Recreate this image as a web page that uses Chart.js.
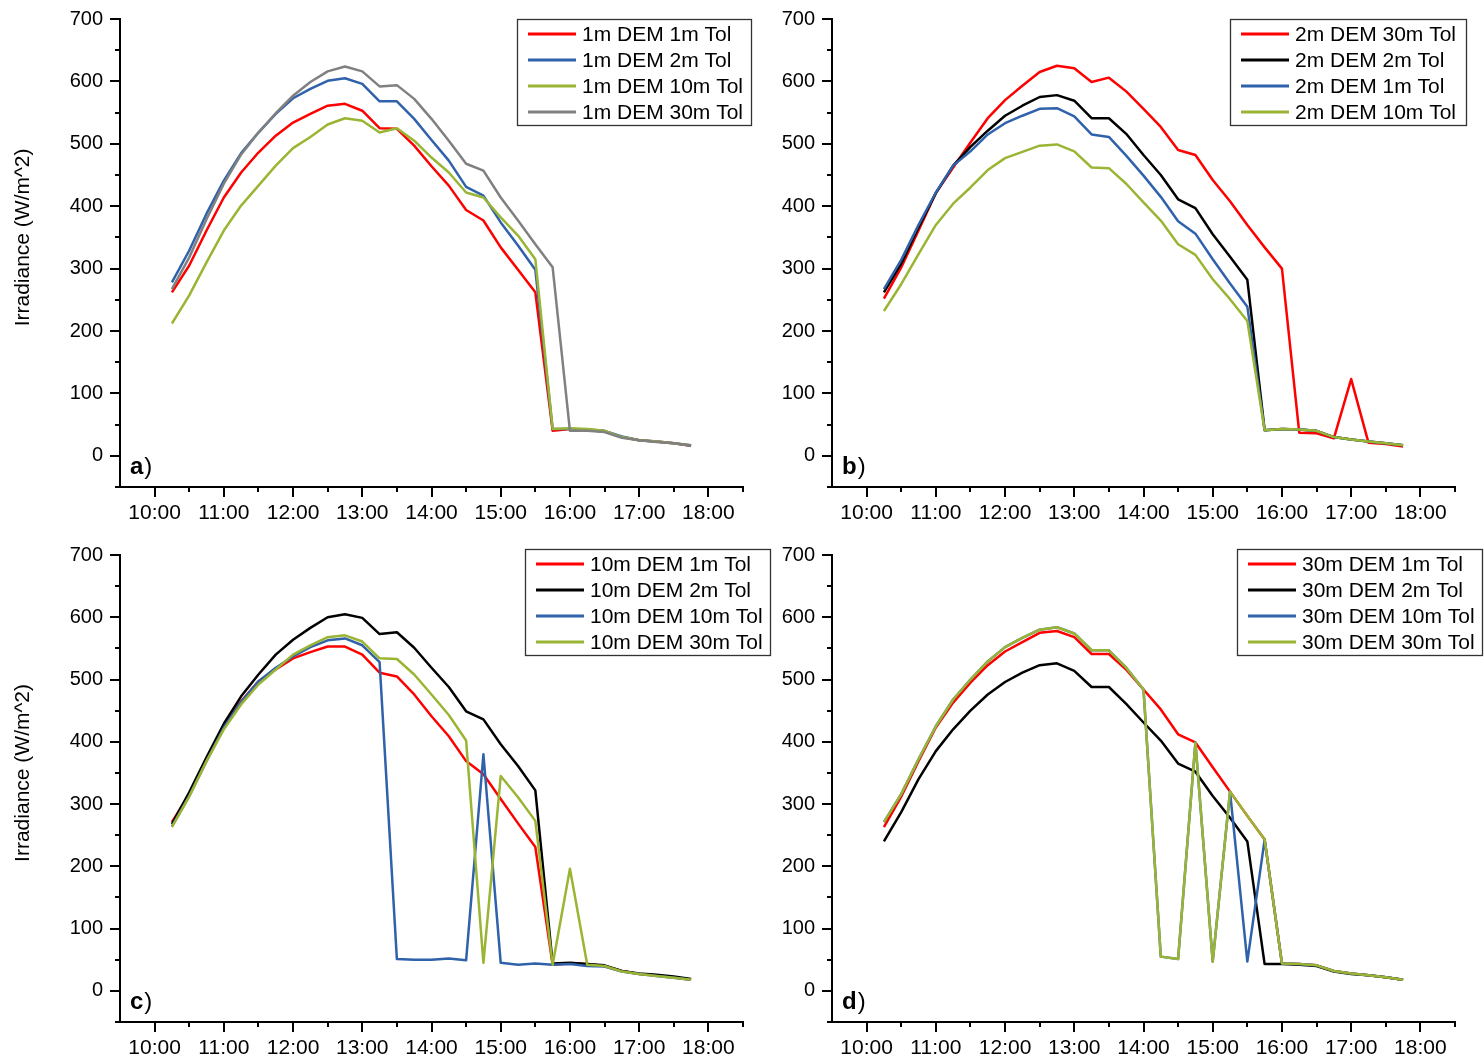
<!DOCTYPE html>
<html><head><meta charset="utf-8">
<script src="https://cdn.jsdelivr.net/npm/chart.js@4.4.1/dist/chart.umd.min.js"></script>
<style>
html,body{margin:0;padding:0;background:#fff;}
#wrap{position:relative;width:1484px;height:1060px;overflow:hidden;background:#fff;}
canvas{position:absolute;left:0;top:0;}
</style></head><body><div id="wrap">
<canvas id="pa" width="1484" height="1060"></canvas>
<canvas id="pb" width="1484" height="1060"></canvas>
<canvas id="pc" width="1484" height="1060"></canvas>
<canvas id="pd" width="1484" height="1060"></canvas>
</div>
<script>
// ---------- data ----------
const times = ["10:15","10:30","10:45","11:00","11:15","11:30","11:45","12:00","12:15","12:30","12:45","13:00","13:15","13:30","13:45","14:00","14:15","14:30","14:45","15:00","15:15","15:30","15:45","16:00","16:15","16:30","16:45","17:00","17:15","17:30","17:45"];
const xTickLabels = ["10:00","11:00","12:00","13:00","14:00","15:00","16:00","17:00","18:00"];
const yTicks = [0,100,200,300,400,500,600,700];

// a) 1m DEM
const dem1_tol1  = [262,305,361,414,454,486,513,534,548,561,564,553,525,524,497,464,433,394,377,334,298,262,40,43,41,39,30,25,23,20,16];
const dem1_tol2  = [278,329,388,441,485,518,548,573,588,601,605,596,568,568,540,506,473,431,417,374,337,298,43,43,42,40,31,25,23,20,16];
const dem1_tol10 = [212,257,310,361,401,433,465,493,511,531,541,537,518,525,505,478,454,422,414,382,353,315,43,44,43,40,30,25,23,20,17];
const dem1_tol30 = [267,318,379,436,483,518,549,577,599,616,624,616,592,594,572,540,505,468,457,414,377,339,302,40,40,38,29,25,22,20,17];
const labelsA = ["1m DEM 1m Tol","1m DEM 2m Tol","1m DEM 10m Tol","1m DEM 30m Tol"];

// b) 2m DEM
const dem2_tol30 = [252,302,361,421,462,502,541,570,593,615,625,621,599,606,584,556,527,490,482,442,408,370,334,300,37,36,28,123,21,19,15];
const dem2_tol2  = [262,308,366,421,465,495,521,545,561,575,578,569,541,541,516,482,450,411,397,355,319,282,41,43,42,40,30,26,23,20,17];
const dem2_tol1  = [267,314,370,422,465,488,515,533,545,556,557,544,515,511,481,449,415,376,356,315,276,239,41,43,42,40,30,26,23,20,17];
const dem2_tol10 = [232,275,323,370,404,430,458,477,487,497,499,488,462,461,436,406,377,339,322,283,251,216,41,43,42,40,30,26,23,20,17];
const labelsB = ["2m DEM 30m Tol","2m DEM 2m Tol","2m DEM 1m Tol","2m DEM 10m Tol"];

// c) 10m DEM
const dem10_tol1  = [271,316,372,425,465,497,516,534,544,553,553,540,511,505,476,441,409,369,348,308,269,231,42,44,43,40,32,27,25,22,18];
const dem10_tol2  = [268,319,375,429,473,508,540,564,583,600,605,599,573,576,551,519,488,449,436,396,361,322,44,45,43,41,32,28,26,23,19];
const dem10_tol10 = [264,313,369,423,464,497,519,537,552,563,566,555,528,51,50,50,52,49,380,45,42,44,42,43,40,39,31,27,24,21,18];
const dem10_tol30 = [263,312,369,420,460,492,516,540,555,568,571,561,534,533,508,476,443,402,45,345,311,273,42,196,42,40,31,27,24,21,18];
const labelsC = ["10m DEM 1m Tol","10m DEM 2m Tol","10m DEM 10m Tol","10m DEM 30m Tol"];

// d) 30m DEM
const dem30_tol1  = [263,312,369,423,463,495,523,545,560,575,578,568,541,541,516,484,452,412,399,359,320,281,243,44,43,41,32,28,25,22,18];
const dem30_tol2  = [240,287,340,385,420,450,476,496,511,523,526,514,488,488,461,431,402,365,352,313,278,240,43,43,42,40,31,27,25,22,18];
const dem30_tol10 = [271,316,372,425,468,500,529,552,567,580,584,574,547,547,519,484,55,51,399,47,320,47,243,44,43,41,32,28,25,22,18];
const dem30_tol30 = [271,316,372,425,468,500,529,552,567,580,584,574,547,547,519,484,55,51,399,47,320,281,243,44,43,41,32,28,25,22,18];
const labelsD = ["30m DEM 1m Tol","30m DEM 2m Tol","30m DEM 10m Tol","30m DEM 30m Tol"];

// ---------- styling ----------
const RED = "#ff0000", BLUE = "#2f62ab", GREEN = "#9ab534", GRAY = "#808080", BLACK = "#000000";
const FONT = "'Liberation Sans', Arial, Helvetica, sans-serif";
Chart.defaults.font.family = FONT;
Chart.defaults.color = "#000";

function hour(t){ const p = t.split(":"); return Number(p[0]) + Number(p[1]) / 60; }

const YW = 60, XH = 40;

const deco = {
  id: "deco",
  afterDraw(chart, args, o) {
    const ctx = chart.ctx, xs = chart.scales.x, ys = chart.scales.y, ca = chart.chartArea;
    ctx.save();
    // tick marks
    ctx.strokeStyle = "#000"; ctx.lineWidth = 2; ctx.lineCap = "butt";
    ctx.beginPath();
    yTicks.forEach(v => { const y = Math.round(ys.getPixelForValue(v)); ctx.moveTo(ca.left, y); ctx.lineTo(ca.left - 10, y); });
    yTicks.forEach(v => { const y = Math.round(ys.getPixelForValue(v - 50)); ctx.moveTo(ca.left, y); ctx.lineTo(ca.left - 5, y); });
    xTickLabels.forEach(l => { const x = Math.round(xs.getPixelForValue(hour(l))); ctx.moveTo(x, ca.bottom); ctx.lineTo(x, ca.bottom + 10); });
    xTickLabels.forEach(l => { const x = Math.round(xs.getPixelForValue(hour(l) + 0.5)); ctx.moveTo(x, ca.bottom); ctx.lineTo(x, ca.bottom + 5); });
    ctx.stroke();

    // panel letter
    ctx.fillStyle = "#000"; ctx.textBaseline = "alphabetic"; ctx.textAlign = "left";
    ctx.font = "bold 24px " + FONT;
    const lx = ca.left + 10, ly = ca.bottom - 13;
    ctx.fillText(o.letter, lx, ly);
    const w = ctx.measureText(o.letter).width;
    ctx.font = "24px " + FONT;
    ctx.fillText(")", lx + w + 1, ly);

    // y title
    if (o.yTitle) {
      const cy = (ys.getPixelForValue(0) + ys.getPixelForValue(700)) / 2;
      ctx.save();
      ctx.translate(23, cy); ctx.rotate(-Math.PI / 2);
      ctx.font = "21px " + FONT; ctx.textAlign = "center"; ctx.textBaseline = "middle";
      ctx.fillText("Irradiance (W/m^2)", 0, 0);
      ctx.restore();
    }

    // legend
    const L = o.legend;
    ctx.fillStyle = "#fff";
    ctx.fillRect(L.left, L.top, L.width, L.height);
    ctx.strokeStyle = "#333"; ctx.lineWidth = 1.3;
    ctx.strokeRect(L.left + 0.5, L.top + 0.5, L.width, L.height);
    chart.data.datasets.forEach((ds, i) => {
      const y = L.top + 15 + i * 26;
      ctx.strokeStyle = ds.borderColor; ctx.lineWidth = 3;
      ctx.beginPath(); ctx.moveTo(L.left + 11, y); ctx.lineTo(L.left + 59, y); ctx.stroke();
      ctx.fillStyle = "#000"; ctx.font = "21px " + FONT; ctx.textAlign = "left"; ctx.textBaseline = "middle";
      ctx.fillText(ds.label, L.left + 65, y + 1);
    });
    ctx.restore();
  }
};

function makeChart(id, p) {
  const datasets = p.series.map((s, i) => ({
    label: p.labels[i],
    data: times.map((t, j) => ({ x: hour(t), y: s[j] })),
    borderColor: p.colors[i],
    backgroundColor: p.colors[i],
    borderWidth: 2.5,
    pointRadius: 0,
    tension: 0,
    fill: false,
    borderJoinStyle: "round",
    order: p.series.length - 1 - i
  }));
  return new Chart(document.getElementById(id), {
    type: "line",
    data: { datasets },
    options: {
      responsive: false, animation: false, events: [], devicePixelRatio: 1,
      layout: { padding: { left: p.area.l - YW, top: p.area.t, right: 1484 - p.area.r, bottom: 1060 - p.area.b - XH } },
      plugins: { legend: { display: false }, tooltip: { enabled: false }, deco: { letter: p.letter, yTitle: p.yTitle, legend: p.legend } },
      scales: {
        x: {
          type: "linear", min: 9.5, max: 18.5,
          afterBuildTicks: s => { s.ticks = xTickLabels.map(l => ({ value: hour(l) })); },
          afterFit: s => { s.height = XH; },
          grid: { display: false, drawTicks: true, tickLength: 10 },
          border: { display: true, color: "#000", width: 2 },
          ticks: { autoSkip: false, maxRotation: 0, padding: 4, color: "#000", font: { size: 21 },
            callback: v => { const i = xTickLabels.findIndex(l => Math.abs(hour(l) - v) < 1e-6); return i >= 0 ? xTickLabels[i] : ""; } }
        },
        y: {
          type: "linear", min: -50, max: 700,
          afterBuildTicks: s => { s.ticks = yTicks.map(v => ({ value: v })); },
          afterFit: s => { s.width = YW; },
          grid: { display: false, drawTicks: true, tickLength: 10 },
          border: { display: true, color: "#000", width: 2 },
          ticks: { autoSkip: false, padding: 7, color: "#000", font: { size: 20 } }
        }
      }
    },
    plugins: [deco]
  });
}

makeChart("pa", { letter: "a", yTitle: true, labels: labelsA, series: [dem1_tol1, dem1_tol2, dem1_tol10, dem1_tol30], colors: [RED, BLUE, GREEN, GRAY],
  area: { l: 120, t: 19, r: 743, b: 487 }, legend: { left: 517, top: 19, width: 234, height: 106 } });
makeChart("pb", { letter: "b", yTitle: false, labels: labelsB, series: [dem2_tol30, dem2_tol2, dem2_tol1, dem2_tol10], colors: [RED, BLACK, BLUE, GREEN],
  area: { l: 832, t: 19, r: 1455, b: 487 }, legend: { left: 1230, top: 19, width: 236, height: 106 } });
makeChart("pc", { letter: "c", yTitle: true, labels: labelsC, series: [dem10_tol1, dem10_tol2, dem10_tol10, dem10_tol30], colors: [RED, BLACK, BLUE, GREEN],
  area: { l: 120, t: 555, r: 743, b: 1022 }, legend: { left: 525, top: 549, width: 245, height: 106 } });
makeChart("pd", { letter: "d", yTitle: false, labels: labelsD, series: [dem30_tol1, dem30_tol2, dem30_tol10, dem30_tol30], colors: [RED, BLACK, BLUE, GREEN],
  area: { l: 832, t: 555, r: 1455, b: 1022 }, legend: { left: 1237, top: 549, width: 245, height: 106 } });
</script>
</body></html>
